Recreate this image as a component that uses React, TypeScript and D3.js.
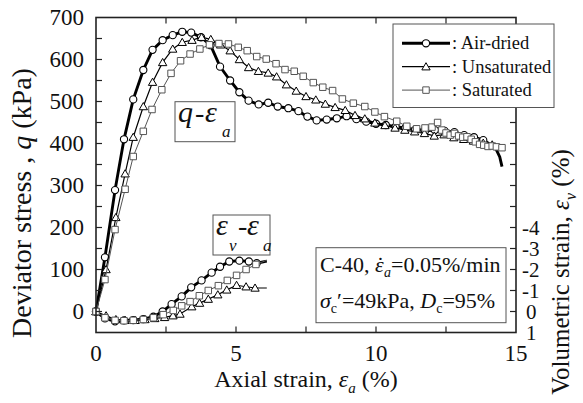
import React from 'react';
import * as d3 from 'd3';

const W = 583;
const H = 403;
const X0 = 96;
const X1 = 516;
const Y0 = 17.5;
const Y1 = 332.5;
const FONT = 'Liberation Serif';

// Deviator stress q (kPa) against axial strain (%)
const airStrain = [0, 0.32, 0.68, 1.0, 1.33, 1.69, 2.02, 2.38, 2.74, 3.08, 3.4, 3.75, 4.09, 4.43, 4.79, 5.12, 5.45, 5.81, 6.15, 6.49, 6.87, 7.23, 7.55, 7.88, 8.24, 8.6, 8.95, 9.3, 9.65, 10.0, 10.35, 10.7, 11.05, 11.4, 11.75, 12.1, 12.45, 12.8, 13.15, 13.5, 13.83];
const airQ = [0, 129, 289, 410, 505, 575, 623, 646, 658, 666, 664, 653, 634, 583, 550, 522, 502, 493, 497, 488, 484, 477, 464, 455, 457, 460, 465, 458, 452, 447, 444, 440, 437, 433, 430, 432, 430, 427, 420, 415, 408];
const airTailStrain = [14.1, 14.3, 14.42, 14.5];
const airTailQ = [397, 385, 368, 345];

const unsatStrain = [0, 0.36, 0.71, 1.04, 1.33, 1.69, 2.02, 2.38, 2.74, 3.08, 3.43, 3.77, 4.1, 4.45, 4.79, 5.12, 5.45, 5.8, 6.15, 6.45, 6.8, 7.15, 7.5, 7.85, 8.19, 8.54, 8.9, 9.25, 9.6, 9.96, 10.32, 10.68, 11.03, 11.38, 11.73, 12.08, 12.43, 12.78, 13.13, 13.48, 13.83, 14.15];
const unsatQ = [0, 100, 224, 328, 415, 488, 546, 593, 625, 641, 646, 653, 648, 635, 621, 600, 581, 572, 568, 559, 540, 525, 512, 504, 494, 486, 479, 467, 459, 449, 443, 437, 432, 428, 424, 418, 421, 414, 410, 406, 401, 397];

const satStrain = [0, 0.32, 0.68, 1.04, 1.33, 1.69, 2.0, 2.35, 2.68, 3.02, 3.36, 3.71, 4.05, 4.39, 4.73, 5.08, 5.4, 5.74, 6.08, 6.43, 6.75, 7.08, 7.4, 7.76, 8.1, 8.45, 8.8, 9.19, 9.6, 9.96, 10.3, 10.74, 11.1, 11.45, 11.75, 12.0, 12.2, 12.35, 12.5, 12.65, 12.8, 12.95, 13.1, 13.25, 13.4, 13.55, 13.7, 13.85, 14.0, 14.15, 14.3, 14.5];
const satQ = [0, 76, 195, 291, 369, 429, 481, 528, 567, 597, 613, 625, 635, 638, 637, 629, 621, 607, 601, 590, 576, 572, 560, 545, 534, 526, 506, 496, 488, 475, 464, 453, 441, 435, 437, 439, 450, 432, 425, 420, 424, 418, 415, 416, 410, 404, 398, 396, 393, 394, 392, 390];

// Volumetric strain (%) against axial strain (%)
const airVolStrain = [0, 0.32, 0.68, 1.0, 1.33, 1.69, 2.05, 2.38, 2.7, 3.06, 3.4, 3.77, 4.13, 4.43, 4.76, 5.12, 5.46, 5.74];
const airVol = [0, 0.33, 0.47, 0.42, 0.41, 0.36, 0.25, 0.0, -0.35, -0.72, -1.15, -1.48, -1.85, -2.13, -2.38, -2.42, -2.38, -2.3];
const airVolEnd = [6.1, -2.4];

const unsatVolStrain = [0, 0.36, 0.71, 1.04, 1.4, 1.75, 2.1, 2.45, 2.75, 3.0, 3.42, 3.7, 4.01, 4.35, 4.67, 5.02, 5.36, 5.68];
const unsatVol = [0, 0.2, 0.38, 0.42, 0.42, 0.38, 0.33, 0.28, 0.2, 0.12, -0.23, -0.4, -0.59, -0.8, -1.03, -1.25, -1.18, -1.12];
const unsatVolEnd = [6.1, -1.12];

const satVolStrain = [0, 0.32, 0.68, 1.0, 1.33, 1.69, 2.05, 2.4, 2.76, 3.06, 3.36, 3.69, 4.01, 4.37, 4.69, 5.02, 5.36, 5.71];
const satVol = [0, 0.3, 0.42, 0.44, 0.42, 0.38, 0.3, 0.15, -0.05, -0.27, -0.47, -0.75, -1.0, -1.23, -1.48, -1.72, -2.0, -2.24];
const satVolEnd = [6.1, -2.44];

const xTickLabels = [0, 5, 10, 15];
const xMinorTicks = [2.5, 5, 7.5, 10, 12.5];
const qTickLabels = [0, 100, 200, 300, 400, 500, 600, 700];
const qTicks = [0, 50, 100, 150, 200, 250, 300, 350, 400, 450, 500, 550, 600, 650];
const qRightTicks = [250, 300, 350, 400, 450, 500, 550, 600, 650];
const volTickLabels = [-4, -3, -2, -1, 0, 1];

const legendNames = ['Air-dried', 'Unsaturated', 'Saturated'];

type Pt = [number, number];
const zip = (a: number[], b: number[]): Pt[] => a.map((v, i) => [v, b[i]]);

const triPath = d3.symbol(d3.symbolTriangle, 30)() as string;
const sqPath = d3.symbol(d3.symbolSquare, 42)() as string;

function Marker({ kind, cx, cy, stroke }: { kind: string; cx: number; cy: number; stroke: string }) {
  if (kind === 'circle') {
    return <circle cx={cx} cy={cy} r={3.6} fill="#fff" stroke={stroke} strokeWidth={1.1} />;
  }
  return (
    <path
      d={kind === 'triangle' ? triPath : sqPath}
      transform={`translate(${cx},${cy + (kind === 'triangle' ? 0.8 : 0)})`}
      fill="#fff"
      stroke={stroke}
      strokeWidth={1}
    />
  );
}

function T(props: any) {
  return <text fontFamily={FONT} fill="#111" {...props} />;
}

export default function App() {
  const x = d3.scaleLinear().domain([0, 15]).range([X0, X1]);
  const yq = d3.scaleLinear().domain([-50, 700]).range([Y1, Y0]);
  const yv = d3.scaleLinear().domain([1, -4]).range([Y1, yq(200)]);

  const qLine = d3.line<Pt>().x((d) => x(d[0])).y((d) => yq(d[1]));
  const vLine = d3.line<Pt>().x((d) => x(d[0])).y((d) => yv(d[1]));

  const series = [
    {
      kind: 'circle', stroke: '#000', lineColor: '#000', lw: 2.9,
      q: zip(airStrain, airQ), qTail: zip(airTailStrain, airTailQ),
      v: zip(airVolStrain, airVol), vEnd: airVolEnd as Pt,
    },
    {
      kind: 'triangle', stroke: '#000', lineColor: '#000', lw: 1.2,
      q: zip(unsatStrain, unsatQ), qTail: [] as Pt[],
      v: zip(unsatVolStrain, unsatVol), vEnd: unsatVolEnd as Pt,
    },
    {
      kind: 'square', stroke: '#555', lineColor: '#555', lw: 1,
      q: zip(satStrain, satQ), qTail: [] as Pt[],
      v: zip(satVolStrain, satVol), vEnd: satVolEnd as Pt,
    },
  ];

  const tick = 6;
  const axisColor = '#222';

  return (
    <svg
      width={W}
      height={H}
      viewBox={`0 0 ${W} ${H}`}
      style={{ position: 'absolute', left: 0, top: 0, background: '#fff' }}
    >
      <rect x={0} y={0} width={W} height={H} fill="#fff" />

      {/* curves */}
      {series.map((s, i) => (
        <g key={i}>
          <path d={qLine([...s.q, ...s.qTail]) as string} fill="none" stroke={s.lineColor} strokeWidth={s.lw} />
          <path d={vLine([...s.v, s.vEnd]) as string} fill="none" stroke={s.lineColor} strokeWidth={s.lw} />
          {s.q.map((d, j) => (
            <Marker key={'q' + j} kind={s.kind} cx={x(d[0])} cy={yq(d[1])} stroke={s.stroke} />
          ))}
          {s.v.map((d, j) => (
            <Marker key={'v' + j} kind={s.kind} cx={x(d[0])} cy={yv(d[1])} stroke={s.stroke} />
          ))}
        </g>
      ))}

      {/* frame */}
      <rect x={X0} y={Y0} width={X1 - X0} height={Y1 - Y0} fill="none" stroke={axisColor} strokeWidth={1.6} />

      {/* x ticks, top and bottom, inward */}
      {xMinorTicks.map((t) => (
        <g key={'xt' + t}>
          <line x1={x(t)} x2={x(t)} y1={Y1} y2={Y1 - tick} stroke={axisColor} strokeWidth={1.2} />
          <line x1={x(t)} x2={x(t)} y1={Y0} y2={Y0 + tick} stroke={axisColor} strokeWidth={1.2} />
        </g>
      ))}
      {xTickLabels.map((t) => (
        <T key={'xl' + t} x={x(t)} y={361} textAnchor="middle" fontSize={23}>{t}</T>
      ))}

      {/* left q axis */}
      {qTicks.map((t) => (
        <line key={'qt' + t} x1={X0} x2={X0 + tick} y1={yq(t)} y2={yq(t)} stroke={axisColor} strokeWidth={1.2} />
      ))}
      {qTickLabels.map((t) => (
        <T key={'ql' + t} x={84} y={yq(t) + 7.5} textAnchor="end" fontSize={23}>{t}</T>
      ))}

      {/* right axis: q ticks above, volumetric strain below */}
      {qRightTicks.map((t) => (
        <line key={'qr' + t} x1={X1} x2={X1 - tick} y1={yq(t)} y2={yq(t)} stroke={axisColor} strokeWidth={1.2} />
      ))}
      {volTickLabels.filter((t) => t < 1).map((t) => (
        <line key={'vt' + t} x1={X1} x2={X1 - tick} y1={yv(t)} y2={yv(t)} stroke={axisColor} strokeWidth={1.2} />
      ))}
      {volTickLabels.map((t) => (
        <T key={'vl' + t} x={t < 0 ? 522 : 526} y={yv(t) + 7} fontSize={21}>{t < 0 ? '-' + Math.abs(t) : t}</T>
      ))}

      {/* axis titles */}
      <T x={306} y={387} textAnchor="middle" fontSize={24}>
        Axial strain, <tspan fontStyle="italic">ε</tspan>
        <tspan dy={6} fontSize={15} fontStyle="italic">a</tspan>
        <tspan dy={-6}> (%)</tspan>
      </T>
      <T transform="translate(31,203) rotate(-90)" textAnchor="middle" fontSize={28}>
        Deviator stress , <tspan fontStyle="italic">q</tspan> (kPa)
      </T>
      <T transform="translate(569,272) rotate(-90)" textAnchor="middle" fontSize={25}>
        Volumetric strain, <tspan fontStyle="italic">ε</tspan>
        <tspan dy={7} fontSize={16} fontStyle="italic">v</tspan>
        <tspan dy={-7}> (%)</tspan>
      </T>

      {/* legend */}
      <rect x={393} y={24} width={161} height={83.5} fill="#fff" stroke="#555" strokeWidth={1} />
      {series.map((s, i) => {
        const ly = 43.3 + i * 23.4;
        return (
          <g key={'lg' + i}>
            <line x1={402} x2={450} y1={ly} y2={ly} stroke={s.lineColor} strokeWidth={s.lw} />
            <Marker kind={s.kind} cx={426} cy={ly} stroke={s.stroke} />
            <T x={452} y={ly + 6} fontSize={18.5}>: {legendNames[i]}</T>
          </g>
        );
      })}

      {/* q–εa label */}
      <rect x={175} y={101.7} width={60} height={40} fill="#fff" stroke="#555" strokeWidth={1} />
      <T x={178} y={122} fontSize={30} fontStyle="italic">q</T>
      <T x={195} y={122} fontSize={28}>-</T>
      <T x={205} y={122} fontSize={30} fontStyle="italic">ε</T>
      <T x={222} y={137} fontSize={17} fontStyle="italic">a</T>

      {/* εv–εa label */}
      <rect x={213} y={215} width={57} height={40} fill="#fff" stroke="#555" strokeWidth={1} />
      <T x={216} y={235} fontSize={30} fontStyle="italic">ε</T>
      <T x={229} y={251} fontSize={17} fontStyle="italic">v</T>
      <T x={238} y={235} fontSize={28}>-</T>
      <T x={247} y={235} fontSize={30} fontStyle="italic">ε</T>
      <T x={263} y={251} fontSize={17} fontStyle="italic">a</T>

      {/* test conditions */}
      <rect x={316} y={247.7} width={190} height={75} fill="#fff" stroke="#555" strokeWidth={1} />
      <T x={320} y={271.5} fontSize={22}>
        C-40, <tspan fontStyle="italic">ε</tspan>
        <tspan dx={-7}>˙</tspan>
        <tspan dy={5} fontSize={14} fontStyle="italic">a</tspan>
        <tspan dy={-5}>=0.05%/min</tspan>
      </T>
      <T x={320} y={308} fontSize={22}>
        <tspan fontStyle="italic">σ</tspan>
        <tspan dy={5} fontSize={14}>c</tspan>
        <tspan dy={-5}>′=49kPa, </tspan>
        <tspan fontStyle="italic">D</tspan>
        <tspan dy={5} fontSize={14}>c</tspan>
        <tspan dy={-5}>=95%</tspan>
      </T>
    </svg>
  );
}
